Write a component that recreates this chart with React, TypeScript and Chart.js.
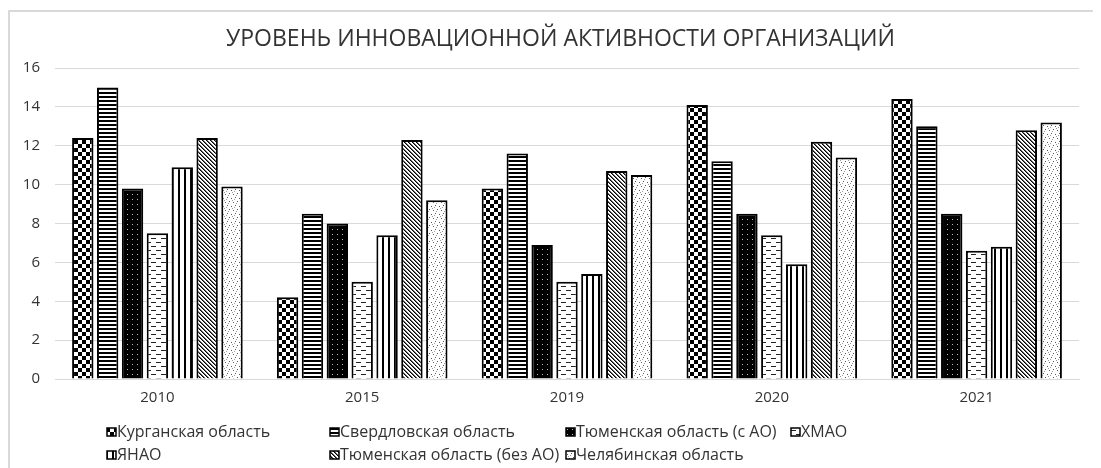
import React, { useEffect, useRef } from "react";
import { Chart, registerables } from "chart.js";

Chart.register(...registerables);

const categories = ["2010", "2015", "2019", "2020", "2021"];
const seriesNames = [
  "Курганская область",
  "Свердловская область",
  "Тюменская область (с АО)",
  "ХМАО",
  "ЯНАО",
  "Тюменская область (без АО)",
  "Челябинская область",
];
const kurgan = [12.4, 4.2, 9.8, 14.1, 14.4];
const sverdlovsk = [15.0, 8.5, 11.6, 11.2, 13.0];
const tyumenWith = [9.8, 8.0, 6.9, 8.5, 8.5];
const khmao = [7.5, 5.0, 5.0, 7.4, 6.6];
const yanao = [10.9, 7.4, 5.4, 5.9, 6.8];
const tyumenWithout = [12.4, 12.3, 10.7, 12.2, 12.8];
const chelyabinsk = [9.9, 9.2, 10.5, 11.4, 13.2];
const yTicks = [0, 2, 4, 6, 8, 10, 12, 14, 16];
const titleText = "УРОВЕНЬ ИННОВАЦИОННОЙ АКТИВНОСТИ ОРГАНИЗАЦИЙ";

const FONT = "'Open Sans', 'Noto Sans', sans-serif";
const TEXT = "#333333";

function makeTile(w: number, h: number, draw: (c: CanvasRenderingContext2D) => void): CanvasPattern {
  const cv = document.createElement("canvas");
  cv.width = w;
  cv.height = h;
  const c = cv.getContext("2d")!;
  c.fillStyle = "#ffffff";
  c.fillRect(0, 0, w, h);
  draw(c);
  const p = document.createElement("canvas").getContext("2d")!.createPattern(cv, "repeat")!;
  return p;
}

function buildPatterns(): CanvasPattern[] {
  const checker = makeTile(8, 8, (c) => {
    c.fillStyle = "#000";
    c.fillRect(0, 0, 4, 4);
    c.fillRect(4, 4, 4, 4);
  });
  const hstripes = makeTile(4, 4, (c) => {
    c.fillStyle = "#000";
    c.fillRect(0, 0, 4, 2);
  });
  const darkDots = makeTile(5, 5, (c) => {
    c.fillStyle = "#000";
    c.fillRect(0, 0, 5, 5);
    c.fillStyle = "#bbb";
    c.fillRect(2, 2, 1, 1);
  });
  const dashes = makeTile(10, 8, (c) => {
    c.fillStyle = "#222";
    c.fillRect(1, 2, 5, 1);
    c.fillRect(6, 6, 4, 1);
    c.fillRect(0, 6, 1, 1);
  });
  const vstripes = makeTile(6, 4, (c) => {
    c.fillStyle = "#000";
    c.fillRect(0, 0, 2, 4);
  });
  const diag = makeTile(4, 4, (c) => {
    c.fillStyle = "#000";
    for (let i = 0; i < 4; i++) c.fillRect(i, i, 1, 1);
    c.fillStyle = "#666";
    for (let i = 0; i < 4; i++) c.fillRect((i + 1) % 4, i, 1, 1);
  });
  const stipple = makeTile(8, 8, (c) => {
    c.fillStyle = "#555";
    c.fillRect(1, 1, 1, 1);
    c.fillRect(5, 2, 1, 1);
    c.fillRect(3, 5, 1, 1);
    c.fillRect(7, 6, 1, 1);
    c.fillStyle = "#999";
    c.fillRect(6, 4, 1, 1);
    c.fillRect(2, 7, 1, 1);
    c.fillRect(0, 3, 1, 1);
  });
  return [checker, hstripes, darkDots, dashes, vstripes, diag, stipple];
}

const titlePlugin = {
  id: "customTitle",
  afterDraw(chart: any) {
    const ctx: CanvasRenderingContext2D = chart.ctx;
    ctx.save();
    ctx.font = `23px ${FONT}`;
    ctx.fillStyle = TEXT;
    ctx.textAlign = "center";
    ctx.textBaseline = "middle";
    ctx.fillText(titleText, chart.width * 0.5046, 27);
    ctx.restore();
  },
};

const legendPlugin = {
  id: "gridLegend",
  afterDraw(chart: any) {
    const ctx: CanvasRenderingContext2D = chart.ctx;
    const cols = [0.089, 0.293, 0.51, 0.716];
    const rows = [420, 443];
    ctx.save();
    ctx.font = `16px ${FONT}`;
    ctx.textBaseline = "middle";
    chart.data.datasets.forEach((ds: any, i: number) => {
      const r = i < 4 ? 0 : 1;
      const col = i < 4 ? i : i - 4;
      const x = Math.round(chart.width * cols[col]);
      const y = rows[r];
      ctx.fillStyle = ds.backgroundColor;
      ctx.fillRect(x, y - 4, 9, 8);
      ctx.strokeStyle = "#000";
      ctx.lineWidth = 1.5;
      ctx.strokeRect(x, y - 4, 9, 8);
      ctx.fillStyle = TEXT;
      ctx.fillText(ds.label, x + 10, y + 0.5);
    });
    ctx.restore();
  },
};

export default function App() {
  const ref = useRef<HTMLCanvasElement>(null);
  useEffect(() => {
    const pats = buildPatterns();
    const values = [kurgan, sverdlovsk, tyumenWith, khmao, yanao, tyumenWithout, chelyabinsk];
    const chart = new Chart(ref.current!, {
      type: "bar",
      data: {
        labels: categories,
        datasets: seriesNames.map((name, i) => ({
          label: name,
          data: values[i],
          backgroundColor: pats[i] as any,
          borderColor: "#000",
          borderWidth: 2,
          categoryPercentage: 0.85,
          barPercentage: 0.86,
        })),
      },
      options: {
        animation: false,
        responsive: false,
        maintainAspectRatio: false,
        layout: { padding: { left: 0, right: 22, top: 56, bottom: 59 } },
        plugins: {
          legend: { display: false },
          tooltip: { enabled: false },
          title: { display: false },
        },
        scales: {
          x: {
            grid: { display: false },
            border: { display: true, color: "#d9d9d9", width: 1 },
            ticks: { color: TEXT, font: { family: FONT, size: 15 }, padding: 2 },
          },
          y: {
            min: 0,
            max: 16,
            afterBuildTicks: (axis: any) => {
              axis.ticks = yTicks.map((v) => ({ value: v }));
            },
            afterFit: (axis: any) => {
              axis.width = 45;
            },
            grid: { color: "#d9d9d9", lineWidth: 1, drawTicks: false },
            border: { display: false },
            ticks: { color: TEXT, font: { family: FONT, size: 15 }, padding: 15 },
          },
        },
      },
      plugins: [titlePlugin, legendPlugin],
    });
    return () => chart.destroy();
  }, []);
  return (
    <div
      style={{
        marginTop: 2,
        width: 1093,
        height: 458,
        borderLeft: "2px solid #d9d9d9",
        borderTop: "2px solid #d9d9d9",
        overflow: "hidden",
      }}
    >
      <canvas ref={ref} width={1091} height={456} style={{ display: "block" }} />
    </div>
  );
}
